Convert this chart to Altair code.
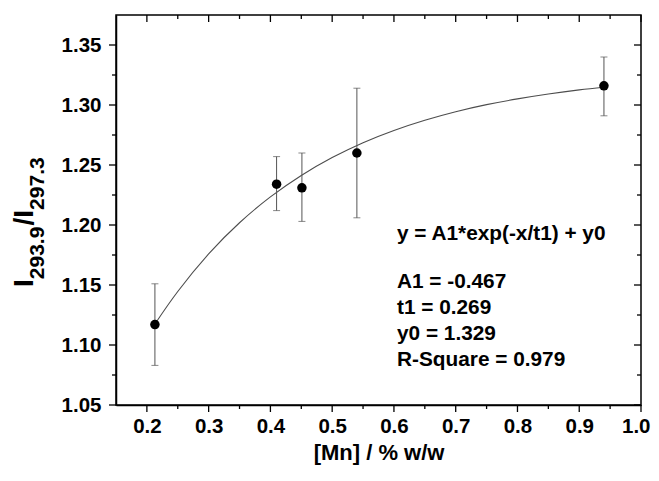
import altair as alt
import pandas as pd

# ---- data ----
mn = [0.213, 0.410, 0.451, 0.540, 0.940]
ratio = [1.117, 1.234, 1.231, 1.260, 1.316]
err_hi = [1.151, 1.257, 1.260, 1.314, 1.340]
err_lo = [1.083, 1.212, 1.203, 1.206, 1.291]

fit_x = [0.215, 0.25, 0.30, 0.35, 0.40, 0.45, 0.50, 0.55, 0.60, 0.65, 0.70,
         0.75, 0.80, 0.85, 0.90, 0.94]
fit_y = [1.1190, 1.1446, 1.1759, 1.2019, 1.2234, 1.2413, 1.2562, 1.2686,
         1.2788, 1.2873, 1.2944, 1.3003, 1.3051, 1.3092, 1.3126, 1.3148]

x_major = [0.2, 0.3, 0.4, 0.5, 0.6, 0.7, 0.8, 0.9, 1.0]
x_minor = [0.25, 0.35, 0.45, 0.55, 0.65, 0.75, 0.85, 0.95]
y_major = [1.05, 1.10, 1.15, 1.20, 1.25, 1.30, 1.35]
y_minor = [1.075, 1.125, 1.175, 1.225, 1.275, 1.325]

annot = ["y = A1*exp(-x/t1) + y0", "A1 = -0.467", "t1 = 0.269",
         "y0 = 1.329", "R-Square = 0.979"]

W, H = 525, 390
FONT = "Liberation Sans"

pts = pd.DataFrame({"x": mn, "y": ratio, "lo": err_lo, "hi": err_hi})
fit = pd.DataFrame({"x": fit_x, "y": fit_y})

xs = alt.Scale(domain=[0.15, 1.0], nice=False, zero=False)
ys = alt.Scale(domain=[1.05, 1.375], nice=False, zero=False)

xaxis = alt.Axis(values=x_major, format=".1f", ticks=False, grid=False,
                 domainColor="black", domainWidth=1.5, labelFont=FONT,
                 labelFontWeight="bold", labelFontSize=20.5, labelColor="black",
                 labelPadding=11, title="[Mn] / % w/w", titleFont=FONT,
                 titleFontWeight="bold", titleFontSize=22, titleColor="black",
                 titlePadding=6, labelFlush=True, labelFlushOffset=9)
yaxis = alt.Axis(values=y_major, format=".2f", ticks=False, grid=False,
                 domainColor="black", domainWidth=1.5, labelFont=FONT,
                 labelFontWeight="bold", labelFontSize=20.5, labelColor="black",
                 labelPadding=15, title=None, labelFlush=False)

curve = alt.Chart(fit).mark_line(color="#4d4d4d", strokeWidth=1.1,
                                 interpolate="natural").encode(
    x=alt.X("x:Q", scale=xs, axis=xaxis),
    y=alt.Y("y:Q", scale=ys, axis=yaxis),
)

bars = alt.Chart(pts).mark_rule(color="#555555", strokeWidth=1).encode(
    x=alt.X("x:Q", scale=xs), y=alt.Y("lo:Q", scale=ys), y2="hi:Q")
cap_hi = alt.Chart(pts).mark_tick(color="#555555", orient="horizontal",
                                  size=7, thickness=1).encode(
    x=alt.X("x:Q", scale=xs), y=alt.Y("hi:Q", scale=ys))
cap_lo = alt.Chart(pts).mark_tick(color="#555555", orient="horizontal",
                                  size=7, thickness=1).encode(
    x=alt.X("x:Q", scale=xs), y=alt.Y("lo:Q", scale=ys))

dots = alt.Chart(pts).mark_circle(color="black", size=90, opacity=1).encode(
    x=alt.X("x:Q", scale=xs), y=alt.Y("y:Q", scale=ys))

layers = [curve, bars, cap_hi, cap_lo, dots]

# tick marks (outward on bottom/left, inward on top/right)
def xticks(vals, length):
    d = pd.DataFrame({"v": vals})
    b = alt.Chart(d).mark_rule(color="black", strokeWidth=1.3).encode(
        x=alt.X("v:Q", scale=xs), y=alt.value(H), y2=alt.value(H + length))
    t = alt.Chart(d).mark_rule(color="black", strokeWidth=1.3).encode(
        x=alt.X("v:Q", scale=xs), y=alt.value(0), y2=alt.value(length))
    return [b, t]

def yticks(vals, length):
    d = pd.DataFrame({"v": vals})
    l = alt.Chart(d).mark_rule(color="black", strokeWidth=1.3).encode(
        y=alt.Y("v:Q", scale=ys), x=alt.value(-length), x2=alt.value(0))
    r = alt.Chart(d).mark_rule(color="black", strokeWidth=1.3).encode(
        y=alt.Y("v:Q", scale=ys), x=alt.value(W - length), x2=alt.value(W))
    return [l, r]

layers += xticks(x_major, 7) + xticks(x_minor, 4)
layers += yticks(y_major, 7) + yticks(y_minor, 4)

# annotation text
ann_y = [225, 273, 299, 325, 351]
for txt, yy in zip(annot, ann_y):
    layers.append(alt.Chart(pd.DataFrame({"t": [txt]})).mark_text(
        font=FONT, fontWeight="bold", fontSize=20.8, color="black",
        align="left", baseline="alphabetic").encode(
        text="t:N", x=alt.value(281), y=alt.value(yy)))

# y-axis title with subscripts (rotated)
title_parts = [("I", 28, -83, 272), ("293.9", 21, -72, 264.2),
               ("/", 28, -83, 210.5), ("I", 28, -83, 202.7),
               ("297.3", 21, -72, 194.9)]
for txt, fs, xx, yy in title_parts:
    layers.append(alt.Chart(pd.DataFrame({"t": [txt]})).mark_text(
        font=FONT, fontWeight="bold", fontSize=fs, color="black",
        align="left", baseline="alphabetic", angle=270).encode(
        text="t:N", x=alt.value(xx), y=alt.value(yy)))

chart = alt.layer(*layers).properties(
    width=W, height=H,
    autosize=alt.AutoSizeParams(type="none"),
    padding={"left": 108, "top": 7, "right": 10, "bottom": 60},
    background="white",
).configure_view(stroke="black", strokeWidth=1.5)

chart.save("out.html", embed_options={"renderer": "svg", "actions": False})
